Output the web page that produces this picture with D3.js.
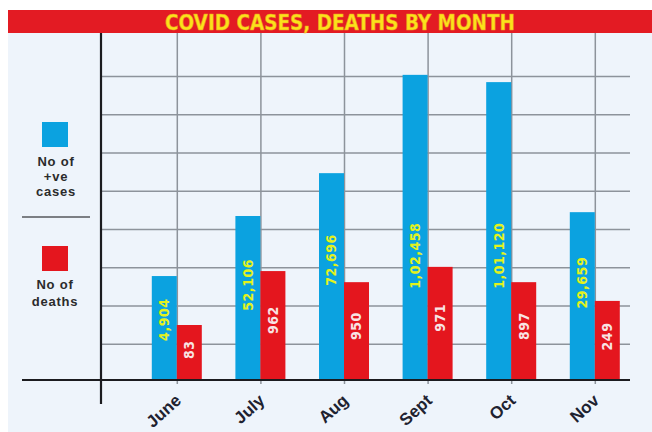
<!DOCTYPE html>
<html>
<head>
<meta charset="utf-8">
<script src="https://cdnjs.cloudflare.com/ajax/libs/d3/7.8.5/d3.min.js"></script>
<style>
  body { margin: 0; background: #ffffff; }
  .narrow { font-family: "Liberation Sans Narrow", "DejaVu Sans Condensed", "Liberation Sans", sans-serif; font-weight: bold; }
  .legend { font-family: "Liberation Sans", Arial, sans-serif; font-weight: bold; font-size: 13px; fill: #2b2b2b; letter-spacing: 0.8px; }
  .month { font-family: "Liberation Sans", Arial, sans-serif; font-weight: bold; font-size: 17px; fill: #1e2230; }
</style>
</head>
<body>
<div id="chart"></div>
<script>
var svgWidth = 652;
var svgHeight = 432;

// Data
// ==============================
var months = ["June", "July", "Aug", "Sept", "Oct", "Nov"];
var cases = [4904, 52106, 72696, 102458, 101120, 29659];
var deaths = [83, 962, 950, 971, 897, 249];
// the original is not drawn to scale: bar heights as drawn, in grid rows
var casesBarRows = [2.77, 4.34, 5.46, 8.03, 7.84, 4.44];
var deathsBarRows = [1.49, 2.90, 2.61, 3.01, 2.61, 2.12];
var gridRows = [1, 2, 3, 4, 5, 6, 7, 8];

var blue = "#0ba2e0";
var red = "#e4161e";

// Indian digit grouping, 1,02,458
function indianFormat(n) {
    var s = String(n);
    if (s.length <= 3) return s;
    var last = s.slice(-3);
    var rest = s.slice(0, -3).replace(/\B(?=(\d{2})+(?!\d))/g, ",");
    return rest + "," + last;
}

var data = months.map(function(m, i) {
    return {month: m, cases: cases[i], deaths: deaths[i], casesRows: casesBarRows[i], deathsRows: deathsBarRows[i]};
});

var plotLeft = 101, plotRight = 630, plotTop = 33;

var svg = d3.select("#chart")
    .append("svg")
    .attr("width", svgWidth)
    .attr("height", svgHeight);

// Background panel and title band
svg.append("rect")
    .attr("x", 8).attr("y", 10)
    .attr("width", svgWidth - 8).attr("height", svgHeight - 10)
    .attr("fill", "#eef4fb");

svg.append("rect")
    .attr("x", 8).attr("y", 10)
    .attr("width", svgWidth - 8).attr("height", 23)
    .attr("fill", "#e31b23");

svg.append("text")
    .attr("class", "narrow")
    .attr("x", 340).attr("y", 30)
    .attr("text-anchor", "middle")
    .attr("font-size", 21)
    .attr("textLength", 350)
    .attr("lengthAdjust", "spacingAndGlyphs")
    .attr("fill", "#fbe21a")
    .attr("stroke", "#ee9a20")
    .attr("stroke-width", 0.5)
    .text("COVID CASES, DEATHS BY MONTH");

// Scales
// ==============================
var x = d3.scalePoint()
    .domain(months)
    .range([176.8, 594.8]);

var xSeries = d3.scaleBand()
    .domain(["cases", "deaths"])
    .range([-25, 25]);

var y = d3.scaleLinear()
    .domain([0, 8])
    .range([382, 76]);

var baseY = y(0) - 2;

// Grid lines through the library's axes
// ==============================
var gridX = svg.append("g")
    .attr("transform", `translate(0, ${baseY + 4})`)
    .call(d3.axisBottom(x).tickSize(-(baseY + 4 - plotTop)).tickFormat(""));
gridX.select(".domain").remove();
gridX.selectAll("line").attr("stroke", "#8d939b").attr("stroke-width", 1.5);

var gridY = svg.append("g")
    .attr("transform", `translate(${plotLeft}, 0)`)
    .call(d3.axisLeft(y).tickValues(gridRows).tickSize(-(plotRight - plotLeft)).tickFormat(""));
gridY.select(".domain").remove();
gridY.selectAll("line").attr("stroke", "#8d939b").attr("stroke-width", 1.5);

// Bars
// ==============================
var groups = svg.append("g")
    .selectAll("g")
    .data(data)
    .enter()
    .append("g")
    .attr("transform", d => `translate(${x(d.month)}, 0)`);

groups.append("rect")
    .attr("x", xSeries("cases"))
    .attr("width", xSeries.bandwidth())
    .attr("y", d => y(d.casesRows))
    .attr("height", d => baseY - y(d.casesRows))
    .attr("fill", blue);

groups.append("rect")
    .attr("x", xSeries("deaths"))
    .attr("width", xSeries.bandwidth())
    .attr("y", d => y(d.deathsRows))
    .attr("height", d => baseY - y(d.deathsRows))
    .attr("fill", red);

// Value labels, rotated inside the bars
groups.append("text")
    .attr("class", "narrow")
    .attr("font-size", 14)
    .attr("letter-spacing", 0.5)
    .attr("fill", "#e3f21c")
    .attr("text-anchor", "middle")
    .attr("dy", "0.35em")
    .attr("transform", function(d) {
        var cy = Math.max(baseY - 0.58 * (baseY - y(d.casesRows)), y(3.3));
        return `translate(${xSeries("cases") + xSeries.bandwidth() / 2}, ${cy}) rotate(-90)`;
    })
    .text(d => indianFormat(d.cases));

groups.append("text")
    .attr("class", "narrow")
    .attr("font-size", 14)
    .attr("letter-spacing", 0.5)
    .attr("fill", "#f8e4e4")
    .attr("text-anchor", "middle")
    .attr("dy", "0.35em")
    .attr("transform", function(d) {
        var cy = baseY - 0.55 * (baseY - y(d.deathsRows));
        return `translate(${xSeries("deaths") + xSeries.bandwidth() / 2}, ${cy}) rotate(-90)`;
    })
    .text(d => indianFormat(d.deaths));

// Axis lines
// ==============================
svg.append("line")
    .attr("x1", plotLeft).attr("x2", plotLeft)
    .attr("y1", plotTop).attr("y2", 404)
    .attr("stroke", "#1b1b1f").attr("stroke-width", 2.2);

svg.append("line")
    .attr("x1", 22).attr("x2", plotRight)
    .attr("y1", baseY).attr("y2", baseY)
    .attr("stroke", "#1b1b1f").attr("stroke-width", 2.2);

// Month labels
var monthAxis = svg.append("g")
    .attr("transform", `translate(0, ${baseY})`)
    .call(d3.axisBottom(x).tickSize(0).tickPadding(0));
monthAxis.select(".domain").remove();
monthAxis.selectAll("text")
    .attr("class", "month")
    .attr("font-size", null)
    .attr("font-family", null)
    .attr("fill", null)
    .attr("text-anchor", "end")
    .attr("dy", null)
    .attr("y", 0)
    .attr("transform", "translate(5, 22) rotate(-42)");

// Legend
// ==============================
svg.append("rect")
    .attr("x", 42).attr("y", 122)
    .attr("width", 26).attr("height", 25)
    .attr("fill", blue);

var casesText = svg.append("text")
    .attr("class", "legend")
    .attr("text-anchor", "middle");
[["No of", 166], ["+ve", 181], ["cases", 196]].forEach(function(t) {
    casesText.append("tspan").attr("x", 56).attr("y", t[1]).text(t[0]);
});

svg.append("line")
    .attr("x1", 22).attr("x2", 90)
    .attr("y1", 217).attr("y2", 217)
    .attr("stroke", "#7c7f84").attr("stroke-width", 2);

svg.append("rect")
    .attr("x", 42).attr("y", 246)
    .attr("width", 26).attr("height", 25)
    .attr("fill", red);

var deathsText = svg.append("text")
    .attr("class", "legend")
    .attr("text-anchor", "middle");
[["No of", 289], ["deaths", 306]].forEach(function(t) {
    deathsText.append("tspan").attr("x", 55).attr("y", t[1]).text(t[0]);
});
</script>
</body>
</html>
